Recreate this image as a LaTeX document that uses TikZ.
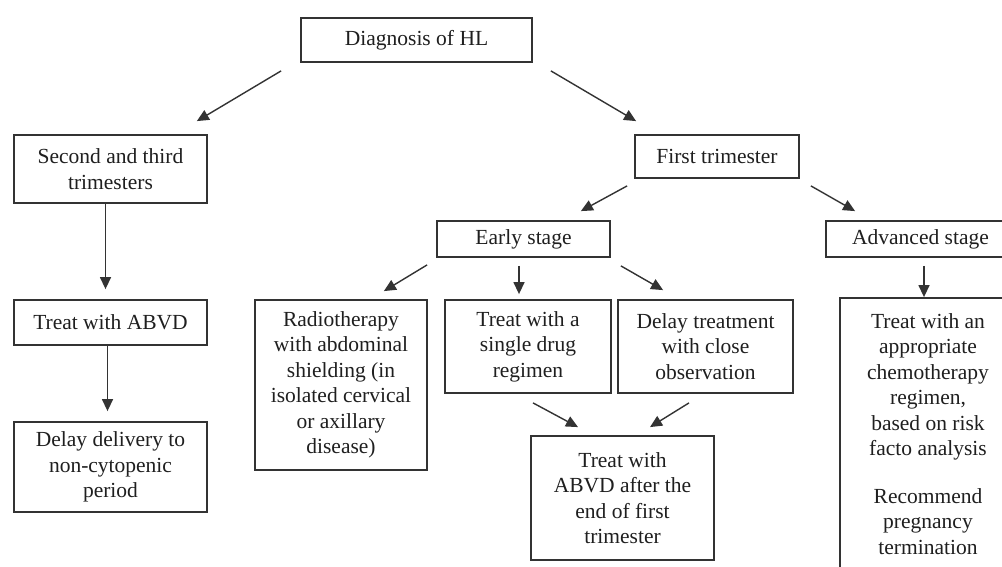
\documentclass[tikz,border=0pt]{standalone}
\usepackage{fontspec}
\setmainfont{Liberation Serif}
\usetikzlibrary{arrows.meta,calc}
\definecolor{ink}{HTML}{1F1F1F}
\definecolor{edge}{HTML}{333333}
\tikzset{
  box/.style={draw=edge, line width=1.8pt, rectangle, inner sep=0pt, align=center,
    text=ink, font=\fontsize{21.5}{25.5}\selectfont},
  conn/.style={draw=edge, line width=1.4pt, -{Triangle[length=12pt,width=11pt]}}
}
\begin{document}
\begin{tikzpicture}[x=1pt,y=-1pt]
\useasboundingbox[fill=white] (0,0) rectangle (1002,567);
\clip (0,0) rectangle (1002,567);
\node[box, minimum width=231pt, minimum height=44pt] (diag) at (416.5,40) {Diagnosis of HL};
\node[box, minimum width=193pt, minimum height=68pt] (second) at (110.5,169) {Second and third\\trimesters};
\node[box, minimum width=164pt, minimum height=43pt] (first) at (717,156.5) {First trimester};
\node[box, minimum width=173pt, minimum height=36pt] (early) at (523.5,239) {Early stage};
\node[box, minimum width=189pt, minimum height=36pt] (adv) at (920.5,239) {Advanced stage};
\node[box, minimum width=193pt, minimum height=45pt] (abvd) at (110.5,322.5) {Treat with ABVD};
\node[box, minimum width=193pt, minimum height=90pt] (delivery) at (110.5,467) {Delay delivery to\\non-cytopenic\\period};
\node[box, minimum width=172pt, minimum height=170pt] (radio) at (341,385) {Radiotherapy\\with abdominal\\shielding (in\\isolated cervical\\or axillary\\disease)};
\node[box, minimum width=166pt, minimum height=93pt] (single) at (528,346.5) {Treat with a\\single drug\\regimen};
\node[box, minimum width=175pt, minimum height=93pt] (delay) at (705.5,346.5) {Delay treatment\\with close\\observation};
\node[box, minimum width=183pt, minimum height=124pt] (after) at (622.5,498) {Treat with\\ABVD after the\\end of first\\trimester};
\node[box, minimum width=176pt, minimum height=272pt] (advbox) at (928,434) {Treat with an\\appropriate\\chemotherapy\\regimen,\\based on risk\\facto analysis\\[22pt]Recommend\\pregnancy\\termination};

\draw[conn] ($(diag.south west)+(-19,8)$) -- ($(second.north east)+(-11,-13)$);
\draw[conn] ($(diag.south east)+(18,8)$) -- ($(first.north west)+(2,-13)$);
\draw[conn] ($(second.south)+(-5,0)$) -- ($(abvd.north)+(-5,-10)$);
\draw[conn] ($(abvd.south)+(-3,0)$) -- ($(delivery.north)+(-3,-10)$);
\draw[conn] ($(first.south west)+(-7,7)$) -- ($(early.north east)+(-30,-9)$);
\draw[conn] ($(first.south east)+(11,7)$) -- ($(adv.north west)+(30,-9)$);
\draw[conn] ($(early.south west)+(-9,7)$) -- ($(radio.north east)+(-44,-8)$);
\draw[conn] ($(early.south)+(-4.5,8)$) -- ($(single.north)+(-9,-5)$);
\draw[conn] ($(early.south east)+(10,8)$) -- ($(delay.north west)+(46,-9)$);
\draw[conn] ($(adv.south)+(3.5,8)$) -- ($(advbox.north)+(-4,0)$);
\draw[conn] ($(single.south)+(5,9)$) -- ($(after.north)+(-44.5,-8)$);
\draw[conn] ($(delay.south)+(-16.5,9)$) -- ($(after.north)+(27.5,-8)$);
\end{tikzpicture}
\end{document}
